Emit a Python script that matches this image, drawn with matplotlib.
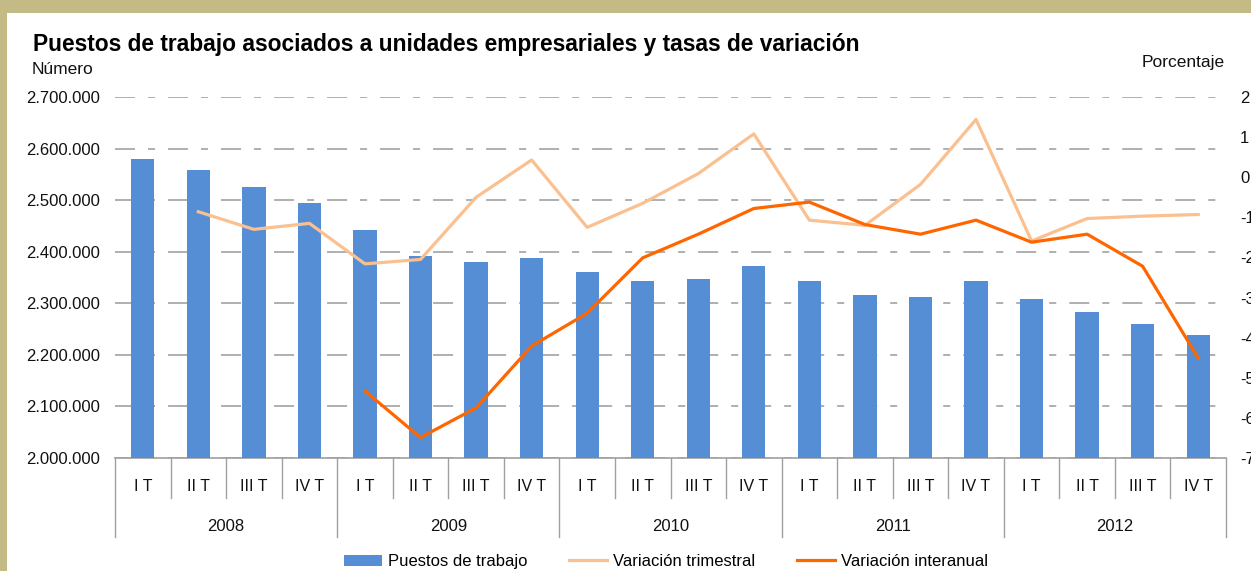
import matplotlib
matplotlib.use("Agg")
import matplotlib.pyplot as plt
from matplotlib.patches import Rectangle
import numpy as np

# ---------------- data ----------------
years = ["2008", "2009", "2010", "2011", "2012"]
quarters = ["I T", "II T", "III T", "IV T"]
puestos = [2580000, 2558000, 2525000, 2494000,
           2442000, 2392000, 2380000, 2388000,
           2361000, 2343000, 2347000, 2372000,
           2343000, 2316000, 2312000, 2343000,
           2308000, 2283000, 2260000, 2238000]
var_trimestral = [None, -0.86, -1.30, -1.15,
                  -2.16, -2.05, -0.50, 0.43,
                  -1.25, -0.65, 0.09, 1.08,
                  -1.07, -1.20, -0.18, 1.44,
                  -1.59, -1.03, -0.97, -0.93]
var_interanual = [None, None, None, None,
                  -5.33, -6.49, -5.75, -4.21,
                  -3.39, -2.01, -1.42, -0.78,
                  -0.62, -1.18, -1.42, -1.07,
                  -1.62, -1.42, -2.22, -4.51]
left_ticks = [2000000, 2100000, 2200000, 2300000, 2400000, 2500000, 2600000, 2700000]
right_ticks = [2, 1, 0, -1, -2, -3, -4, -5, -6, -7]

title = "Puestos de trabajo asociados a unidades empresariales y tasas de variación"

# ---------------- style ----------------
plt.rcParams['font.family'] = ['Liberation Sans', 'DejaVu Sans']
W, H = 1251, 571
fig = plt.figure(figsize=(W / 100, H / 100), dpi=100)
fig.patch.set_facecolor("#C4BA86")
fig.patches.append(Rectangle((7 / W, 0), 1, (H - 13) / H, transform=fig.transFigure,
                             facecolor="white", edgecolor="none", zorder=-10))

ax = fig.add_axes([115 / W, (H - 458) / H, (1226 - 115) / W, (458 - 97) / H])
ax.set_facecolor("none")

n = len(puestos)
x = np.arange(n)
labels = [q for _ in years for q in quarters]

ax.bar(x, puestos, width=0.42, color="#558ED5", zorder=3, label="Puestos de trabajo")
ax.set_ylim(2000000, 2700000)
ax.set_xlim(-0.5, n - 0.5)
ax.set_yticks(left_ticks)
ax.set_yticklabels([f"{v:,}".replace(",", ".") for v in left_ticks], fontsize=12)
ax.tick_params(axis="y", length=0, pad=11, colors="#111111")
ax.set_xticks(x)
ax.set_xticklabels([""] * n)
ax.tick_params(axis="x", length=0)
for s in ["left", "right", "top"]:
    ax.spines[s].set_visible(False)
ax.spines["bottom"].set_color("#A0A0A0")
ax.spines["bottom"].set_linewidth(1.2)

ax.grid(axis="y", color="#9A9A9A", linewidth=1.1,
        linestyle=(0, (13.1, 8.5, 4.6, 8.5)), zorder=0)
ax.grid(axis="x", visible=False)

# category labels and separators
trans = ax.get_xaxis_transform()
for k, lab in enumerate(labels):
    ax.text(k, -0.0795, lab, transform=trans, ha="center", va="center",
            fontsize=11.5, color="#111111")
for k in range(n + 1):
    pos = k - 0.5
    ybot = -0.219 if k % 4 == 0 else -0.111
    ax.plot([pos, pos], [0, ybot], transform=trans, color="#A0A0A0",
            linewidth=1.0, clip_on=False)
for i, yr in enumerate(years):
    ax.text(4 * i + 1.5, -0.19, yr, transform=trans, ha="center", va="center",
            fontsize=12, color="#111111")

ax2 = ax.twinx()
ax2.set_ylim(-7, 2)
ax2.set_yticks(right_ticks)
ax2.set_yticklabels([str(v) for v in right_ticks], fontsize=12)
ax2.tick_params(axis="y", length=0, pad=10, colors="#111111")
for s in ["left", "right", "top", "bottom"]:
    ax2.spines[s].set_visible(False)

vt = np.array([np.nan if v is None else v for v in var_trimestral], dtype=float)
vi = np.array([np.nan if v is None else v for v in var_interanual], dtype=float)
ax2.plot(x, vt, color="#FAC090", linewidth=2.3, label="Variación trimestral", zorder=4)
ax2.plot(x, vi, color="#FF6600", linewidth=2.3, label="Variación interanual", zorder=5)

# texts
fig.text(33 / W, 1 - 45 / H, title, fontsize=16.4, fontweight="bold", ha="left",
         va="center", color="#000000")
fig.text(32 / W, 1 - 70 / H, "Número", fontsize=12.5, ha="left", va="center", color="#111111")
fig.text(1225 / W, 1 - 62 / H, "Porcentaje", fontsize=12.5, ha="right", va="center",
         color="#111111")

h1, l1 = ax.get_legend_handles_labels()
h2, l2 = ax2.get_legend_handles_labels()
fig.legend(h1 + h2, l1 + l2, loc="center", bbox_to_anchor=(666 / W, 9.5 / H), ncol=3,
           frameon=False, fontsize=12, handlelength=2.3, handleheight=0.66,
           handletextpad=0.36, columnspacing=2.5)

fig.savefig("out.png", dpi=100)
